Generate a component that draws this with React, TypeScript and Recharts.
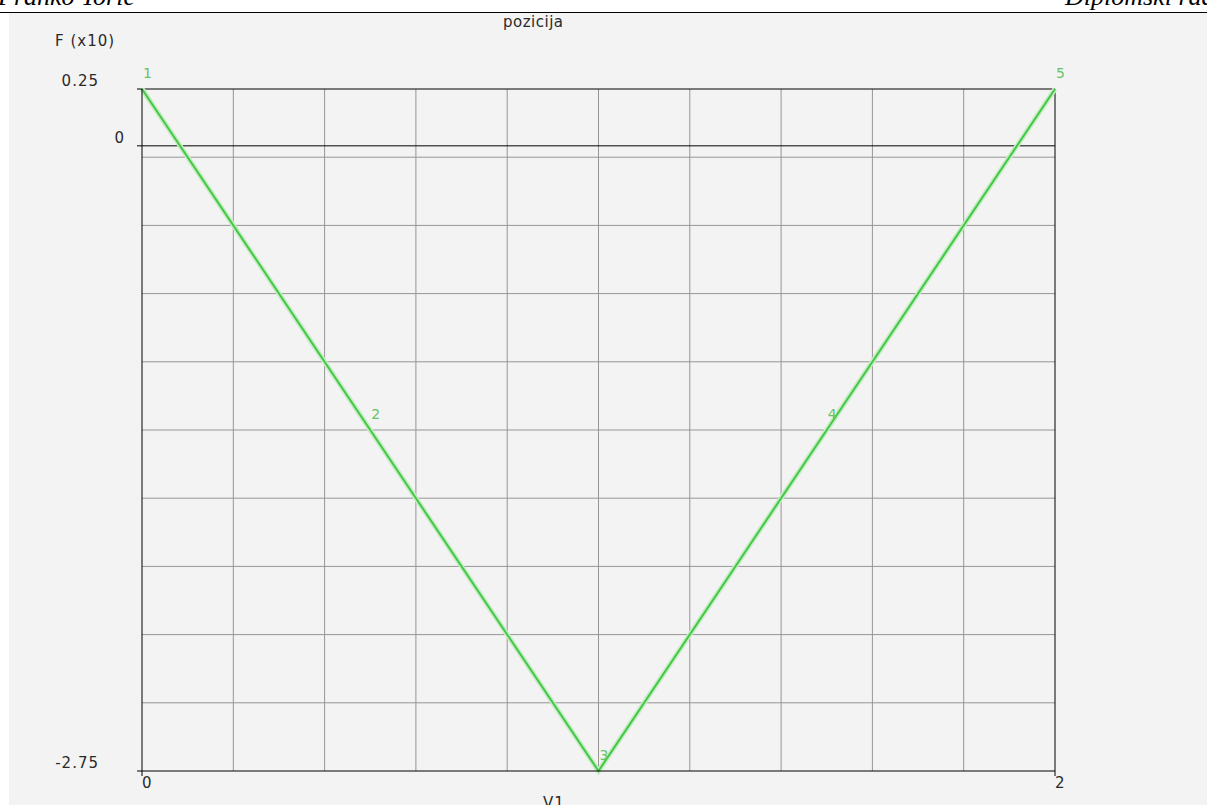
import { LineChart, Line, XAxis, YAxis, ReferenceLine, LabelList } from 'recharts'

const pointIds = [1, 2, 3, 4, 5]
const xValues = [0, 0.5, 1, 1.5, 2]
const fValues = [0.25, -1.25, -2.75, -1.25, 0.25]

const xTicks = [0, 2]
const yTicks = [0.25, 0, -2.75]

// 10 equal grid divisions each way
const gridX = [0.2, 0.4, 0.6, 0.8, 1.0, 1.2, 1.4, 1.6, 1.8]
const gridY = [-0.05, -0.35, -0.65, -0.95, -1.25, -1.55, -1.85, -2.15, -2.45]

const data = pointIds.map((id, i) => ({ id, x: xValues[i], f: fValues[i] }))

const FONT = '"DejaVu Sans", sans-serif'
const TEXT = '#2a2a2a'

function YTick(props: any) {
  const { x, y, payload } = props
  const v = payload.value
  const dx = v === 0 ? -12 : -38
  return (
    <text x={x + dx} y={y - 3} textAnchor="end" fontSize={15} letterSpacing={1} fontFamily={FONT} fill={TEXT}>
      {String(v)}
    </text>
  )
}

function XTick(props: any) {
  const { x, y, payload } = props
  return (
    <text x={x} y={y + 12} textAnchor="start" fontSize={15} fontFamily={FONT} fill={TEXT}>
      {String(payload.value)}
    </text>
  )
}

function PointLabel(props: any) {
  const { x, y, value } = props
  return (
    <text x={x + 1} y={y - 11} fontSize={14} fontFamily={FONT} fill="#66c466">
      {value}
    </text>
  )
}

export default function App() {
  return (
    <div style={{ position: 'absolute', left: 0, top: 0, width: 1207, height: 805, background: '#fff', overflow: 'hidden' }}>
      <div style={{ position: 'absolute', left: 9, top: 13, right: 0, bottom: 0, background: '#f3f3f3' }} />
      <div style={{ position: 'absolute', left: 0, top: 11.5, width: 1207, height: 1.5, background: '#000' }} />

      <div style={{ position: 'absolute', left: 0, top: 0 }}>
        <LineChart width={1207} height={805} data={data} margin={{ top: 89, right: 152, left: 82, bottom: 4 }}>
          <XAxis
            type="number"
            dataKey="x"
            domain={[0, 2]}
            ticks={xTicks}
            height={30}
            tickSize={5}
            tickMargin={0}
            tick={<XTick />}
            axisLine={{ stroke: '#000' }}
            tickLine={{ stroke: '#000' }}
          />
          <YAxis
            type="number"
            domain={[-2.75, 0.25]}
            ticks={yTicks}
            width={60}
            tickSize={5}
            tickMargin={0}
            tick={<YTick />}
            axisLine={{ stroke: '#000' }}
            tickLine={{ stroke: '#000' }}
          />
          {gridX.map((v) => (
            <ReferenceLine key={`gx-${v}`} x={v} stroke="#959595" strokeWidth={1} />
          ))}
          {gridY.map((v) => (
            <ReferenceLine key={`gy-${v}`} y={v} stroke="#959595" strokeWidth={1} />
          ))}
          <ReferenceLine y={0} stroke="#000" strokeWidth={1} />
          <ReferenceLine y={0.25} stroke="#000" strokeWidth={1} />
          <ReferenceLine x={2} stroke="#000" strokeWidth={1} />
          <Line type="linear" dataKey="f" stroke="#c4ecc4" strokeWidth={5} dot={false} isAnimationActive={false} />
          <Line type="linear" dataKey="f" stroke="#44c844" strokeWidth={2} dot={false} isAnimationActive={false}>
            <LabelList dataKey="id" content={<PointLabel />} />
          </Line>
        </LineChart>
      </div>

      <svg width={1207} height={805} style={{ position: 'absolute', left: 0, top: 0, pointerEvents: 'none' }}>
        <text x={-2} y={5} fontSize={26} fontStyle="italic" fontFamily='"Liberation Serif", serif' fill="#000">
          Franko Torić
        </text>
        <text x={1065} y={5} fontSize={26} fontStyle="italic" fontFamily='"Liberation Serif", serif' fill="#000">
          Diplomski rad
        </text>
        <text x={503} y={27} fontSize={15} letterSpacing={0.5} fontFamily={FONT} fill={TEXT}>
          pozicija
        </text>
        <text x={55} y={46} fontSize={15} letterSpacing={1} fontFamily={FONT} fill={TEXT}>
          F (x10)
        </text>
        <text x={543} y={808} fontSize={15} letterSpacing={1} fontFamily={FONT} fill={TEXT}>
          V1
        </text>
      </svg>
    </div>
  )
}
